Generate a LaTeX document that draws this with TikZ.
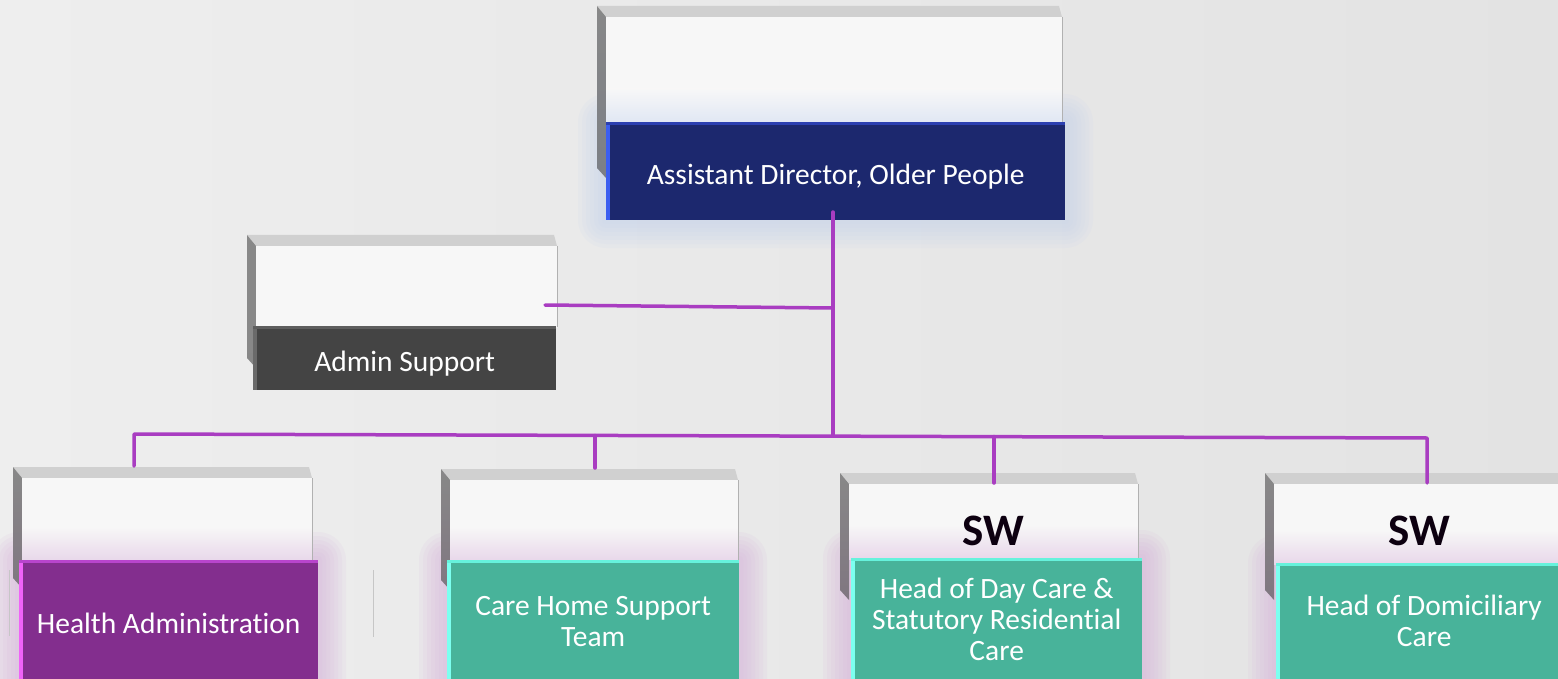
\documentclass[tikz,border=0pt]{standalone}
\usepackage{fontspec}
\setmainfont{Carlito}[Ligatures=NoCommon]
\usetikzlibrary{positioning}

\definecolor{bgl}{HTML}{EEEEEE}
\definecolor{bgr}{HTML}{E3E3E3}
\definecolor{linkcol}{HTML}{A93DC1}
\definecolor{navy}{HTML}{1C286E}
\definecolor{navyside}{HTML}{3B5EF0}
\definecolor{navytop}{HTML}{2B3FB0}
\definecolor{slate}{HTML}{444444}
\definecolor{slateside}{HTML}{6A6A6A}
\definecolor{slatetop}{HTML}{5E5E5E}
\definecolor{plum}{HTML}{832E8E}
\definecolor{plumside}{HTML}{F062F8}
\definecolor{plumtop}{HTML}{B845CC}
\definecolor{tealbox}{HTML}{48B39A}
\definecolor{tealside}{HTML}{7CFFF0}
\definecolor{tealtop}{HTML}{66F2DC}
\definecolor{faceg}{HTML}{F7F7F7}
\definecolor{bevelg}{HTML}{D0D0D0}
\definecolor{sideg}{HTML}{888888}
\definecolor{blueglow}{HTML}{C4D3F0}
\definecolor{lilac}{HTML}{D6B0DA}
\definecolor{swink}{HTML}{0D0010}

\newcommand{\boxfont}{\fontsize{29.5}{31}\selectfont}
\newcommand{\swfont}{\fontsize{45}{50}\selectfont\bfseries}

% back panel: left, top, right, face bottom, side bottom, tint
\newcommand{\cardback}[6]{%
  \fill[bevelg] (#1,#2) -- (#3-3,#2) -- (#3,#2+11) -- (#1+9,#2+11) -- cycle;
  \shade[top color=sideg, bottom color=sideg!70!#6!80!black]
    (#1,#2) -- (#1+9,#2+11) -- (#1+9,#5+10) -- (#1,#5) -- cycle;
  \fill[faceg] (#1+9,#2+11) rectangle (#3,#4);
  \shade[top color=faceg, bottom color=#6!45!faceg] (#1+9,#4-34) rectangle (#3,#4);
  \draw[bevelg!85!black, line width=1pt] (#3,#2+11) -- (#3,#4);
}

% soft glow: colour, left, top, right, bottom
\newcommand{\glow}[5]{%
  \foreach \g in {28,24,...,4}
    \fill[#1, opacity=0.11, rounded corners=\g pt] (#2-\g,#3-\g) rectangle (#4+\g,#5+\g);
}

% lit rims of a front box
\newcommand{\rim}[3]{%
  \fill[#2] (#1.north west) rectangle ([xshift=4pt]#1.south west);
  \fill[#3] (#1.north west) rectangle ([yshift=-3pt]#1.north east);
}

\begin{document}
\begin{tikzpicture}[x=1pt,y=-1pt,
    front/.style={anchor=north west, inner sep=0pt},
    boxtext/.style={inner sep=0pt, text=white, align=center, font=\boxfont},
    swlabel/.style={inner sep=0pt, text=swink, font=\swfont},
    link/.style={draw=linkcol, line width=3.5pt, line join=round, line cap=round},
    hairline/.style={draw=gray!45, line width=0.9pt}]

  \useasboundingbox (0,0) rectangle (1558,679);
  \shade[left color=bgl, right color=bgr] (0,0) rectangle (1558,679);

  % glows
  \glow{blueglow}{606}{122}{1065}{220}
  \glow{lilac}{19}{560}{318}{679}
  \glow{lilac}{447}{560}{739}{679}
  \glow{lilac}{851}{558}{1142}{679}
  \glow{lilac}{1276}{563}{1572}{679}

  % back panels
  \cardback{597}{6}{1062}{123}{168}{blueglow}
  \cardback{247}{235}{557}{327}{358}{faceg}
  \cardback{13}{467}{312}{561}{578}{lilac}
  \cardback{441}{469}{738}{561}{580}{lilac}
  \cardback{840}{473}{1138}{559}{590}{lilac}
  \cardback{1265}{473}{1572}{564}{590}{lilac}

  \draw[hairline] (9,570) -- (9,636);
  \draw[hairline] (373,570) -- (373,637);

  % front boxes
  \begin{scope}[every node/.style={front}]
    \node[fill=navy, minimum width=459pt, minimum height=98pt] (ad) at (606,122) {};
    \node[fill=slate, minimum width=303pt, minimum height=64pt] (adm) at (253,326) {};
    \node[fill=plum, minimum width=299pt, minimum height=119pt] (hd) at (19,560) {};
    \node[fill=tealbox, minimum width=292pt, minimum height=119pt] (ch) at (447,560) {};
    \node[fill=tealbox, minimum width=291pt, minimum height=121pt] (dc) at (851,558) {};
    \node[fill=tealbox, minimum width=296pt, minimum height=116pt] (dm) at (1276,563) {};
  \end{scope}

  \rim{ad}{navyside}{navytop}
  \rim{adm}{slateside}{slatetop}
  \rim{hd}{plumside}{plumtop}
  \rim{ch}{tealside}{tealtop}
  \rim{dc}{tealside}{tealtop}
  \rim{dm}{tealside}{tealtop}

  \begin{scope}[every node/.style={boxtext}]
    \node (ad-t) at ([yshift=-5pt]ad.center) {Assistant Director, Older People};
    \node (adm-t) at ([yshift=-5pt]adm.center) {Admin Support};
    \node (hd-t) at ([yshift=-4pt]hd.center) {Health Administration};
    \node (ch-t) at ([yshift=-2pt]ch.center) {Care Home Support\\Team};
    \node (dc-t) at ([yshift=-1pt]dc.center) {Head of Day Care \&\\Statutory Residential\\Care};
    \node (dm-t) at (dm.center) {Head of Domiciliary\\Care};
  \end{scope}

  \node[swlabel] (dc-sw) at (993,531) {SW};
  \node[swlabel] (dm-sw) at (1419,531) {SW};

  % connectors
  \coordinate (ad-out) at (833,212);
  \coordinate (adm-in) at (545,305);
  \coordinate (j-adm) at (833,308);
  \coordinate (j-bus) at (833,436);
  \coordinate (bus-l) at (134,434);
  \coordinate (bus-r) at (1427,438);
  \coordinate (hd-in) at (134,466);
  \coordinate (ch-up) at (595,435.5);
  \coordinate (ch-in) at (595,468);
  \coordinate (dc-up) at (994,436.5);
  \coordinate (dc-in) at (994,483);
  \coordinate (dm-in) at (1427,483);

  \begin{scope}[every edge/.style={link}]
    \path (ad-out) edge (j-bus);
    \path (adm-in) edge (j-adm);
    \path (ch-up) edge (ch-in);
    \path (dc-up) edge (dc-in);
  \end{scope}
  \draw[link] (hd-in) -- (bus-l) -- (bus-r) -- (dm-in);
\end{tikzpicture}
\end{document}
